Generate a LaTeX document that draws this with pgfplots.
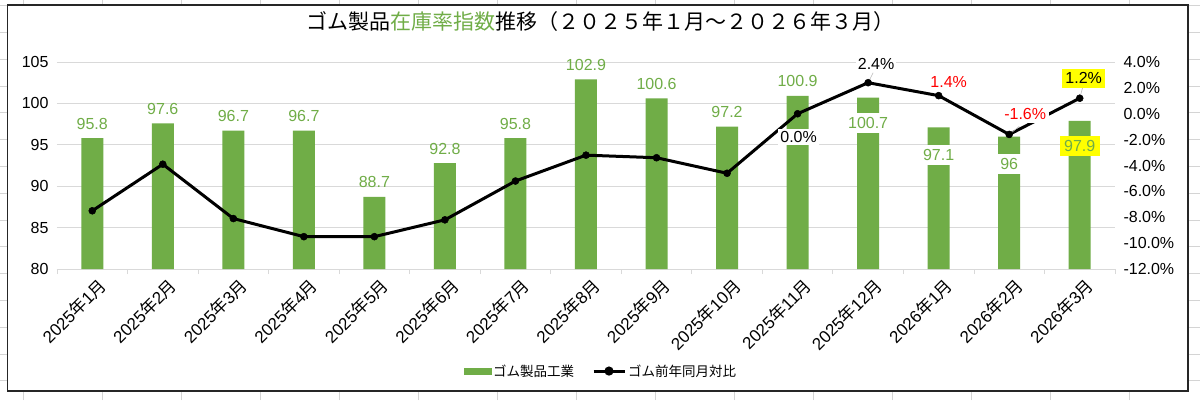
\documentclass[border=0pt]{standalone}
\usepackage{pgfplots}
\pgfplotsset{compat=1.18}
\usepackage{pgfplotstable}
\usepackage{fontspec}
\setmainfont{Liberation Sans}
\newfontfamily\jp{Noto Sans CJK JP}
\definecolor{barg}{HTML}{70AD47}
\definecolor{gridc}{HTML}{D9D9D9}
\definecolor{sheet}{HTML}{D4D4D4}
\definecolor{hl}{HTML}{FFFF00}
\newcommand\ym[2]{#1{\jp 年}#2{\jp 月}}

\pgfplotstableread{
x v
0 95.8
1 97.6
2 96.7
3 96.7
4 88.7
5 92.8
6 95.8
7 102.9
8 100.6
9 97.2
10 100.9
11 100.7
12 97.1
13 96
14 97.9
}\bars

\pgfplotstableread{
x p
0 -7.5
1 -3.9
2 -8.1
3 -9.5
4 -9.5
5 -8.2
6 -5.2
7 -3.2
8 -3.4
9 -4.6
10 0.0
11 2.4
12 1.4
13 -1.6
14 1.2
}\yoy

\tikzset{
  blab/.style={font=\fontsize{16}{19}\selectfont, text=barg},
  llab/.style={font=\fontsize{16}{19}\selectfont, text=black},
}

\begin{document}
\begin{tikzpicture}[x=1pt,y=1pt]
\useasboundingbox (0,0) rectangle (1200,400);
\fill[white] (0,0) rectangle (1200,400);
\foreach \i in {0,...,14} {\draw[sheet, line width=0.6pt] ({23+79*\i},0) -- ({23+79*\i},400);}
\foreach \j in {0,...,15} {\draw[sheet, line width=0.6pt] (0,{400-5.5-26.8*\j}) -- (1200,{400-5.5-26.8*\j});}
\draw[black!85, line width=1.3pt, fill=white] (7.6,9) rectangle (1188,395);
\node[font=\jp\fontsize{21}{24}\selectfont] at (600,378) {ゴム製品\textcolor{barg}{在庫率指数}推移（２０２５年１月～２０２６年３月）};

\begin{axis}[
  at={(57pt,131pt)}, anchor=south west, scale only axis,
  width=1058pt, height=207pt,
  xmin=-0.5, xmax=14.5, ymin=80, ymax=105,
  axis x line*=bottom, axis y line*=left,
  x axis line style={draw=gridc, line width=0.8pt, -},
  y axis line style={draw=none},
  ytick={80,85,...,105},
  ymajorgrids, grid style={gridc, line width=0.8pt},
  xtick={-0.5,0.5,...,14.5}, x tick label as interval,
  xticklabels={\ym{2025}{1},\ym{2025}{2},\ym{2025}{3},\ym{2025}{4},\ym{2025}{5},\ym{2025}{6},\ym{2025}{7},\ym{2025}{8},\ym{2025}{9},\ym{2025}{10},\ym{2025}{11},\ym{2025}{12},\ym{2026}{1},\ym{2026}{2},\ym{2026}{3}},
  tick align=outside, major tick length=5pt,
  xtick style={draw=gridc, line width=0.8pt},
  ytick style={draw=none},
  ticklabel style={font=\fontsize{16}{19}\selectfont},
  xticklabel style={font=\fontsize{17}{20}\selectfont, xshift=5pt, yshift=2pt, rotate=45, anchor=north east},
  /pgf/number format/assume math mode=true,
  clip mode=individual,
]
\addplot[ybar, bar width=22pt, fill=barg, draw=none] table[x=x,y=v]{\bars};
\node[blab, anchor=base, yshift=9pt] at (axis cs:0,95.8) {95.8};
\node[blab, anchor=base, yshift=9pt] at (axis cs:1,97.6) {97.6};
\node[blab, anchor=base, yshift=9pt] at (axis cs:2,96.7) {96.7};
\node[blab, anchor=base, yshift=9pt] at (axis cs:3,96.7) {96.7};
\node[blab, anchor=base, yshift=9pt] at (axis cs:4,88.7) {88.7};
\node[blab, anchor=base, yshift=9pt] at (axis cs:5,92.8) {92.8};
\node[blab, anchor=base, yshift=9pt] at (axis cs:6,95.8) {95.8};
\node[blab, anchor=base, yshift=9pt] at (axis cs:7,102.9) {102.9};
\node[blab, anchor=base, yshift=9pt] at (axis cs:8,100.6) {100.6};
\node[blab, anchor=base, yshift=9pt] at (axis cs:9,97.2) {97.2};
\node[blab, anchor=base, yshift=9pt] at (axis cs:10,100.9) {100.9};
\node[blab, fill=white, inner sep=4pt] at (axis cs:11,97.63) {100.7};
\node[blab, fill=white, inner sep=4pt] at (axis cs:12,93.77) {97.1};
\node[blab, fill=white, inner sep=4pt] at (axis cs:13,92.68) {96};
\node[blab, fill=hl, inner xsep=4.5pt, inner ysep=4pt] at (axis cs:14,94.86) {97.9};
\end{axis}

\begin{axis}[
  at={(57pt,131pt)}, anchor=south west, scale only axis,
  width=1058pt, height=207pt,
  xmin=-0.5, xmax=14.5, ymin=-12, ymax=4,
  axis x line=none, axis y line*=right,
  y axis line style={draw=none},
  ytick={-12,-10,...,4}, ytick style={draw=none},
  tick align=outside, major tick length=5pt,
  yticklabel={\pgfmathprintnumber[fixed,fixed zerofill,precision=1]{\tick}\%},
  ticklabel style={font=\fontsize{16}{19}\selectfont},
  /pgf/number format/assume math mode=true,
  clip=false,
  legend columns=2,
  legend style={at={(0.514,-0.493)}, anchor=center, draw=none, fill=none,
    font=\jp\fontsize{13.5}{16}\selectfont,
    /tikz/every even column/.append style={column sep=16pt}},
]
\addlegendimage{legend image code/.code={\fill[barg] (0pt,-3pt) rectangle (27pt,3pt);}}
\addlegendentry{ゴム製品工業}
\addplot[black, line width=3pt, mark=*, mark size=3.5pt, mark options={fill=black, line width=0.5pt, solid},
  legend image code/.code={\draw[black, line width=3pt] (0pt,0pt) -- (31pt,0pt); \fill[black] (15.5pt,0pt) circle (3pt);}]
  table[x=x,y=p]{\yoy};
\addlegendentry{ゴム前年同月対比}
\draw[gray!55, line width=0.6pt] (axis cs:11,2.4) -- ++(5pt,10pt);
\draw[gray!55, line width=0.6pt] (axis cs:14,1.2) -- ++(3pt,11pt);
\draw[gray!55, line width=0.6pt] (axis cs:13,-1.6) -- ++(10pt,8pt);
\node[llab, fill=white, inner sep=2.5pt, xshift=1pt, yshift=-23pt] at (axis cs:10,0) {0.0\%};
\node[llab, fill=white, inner sep=1.5pt, xshift=8pt, yshift=19pt] at (axis cs:11,2.4) {2.4\%};
\node[llab, text=red, inner sep=1.5pt, xshift=10pt, yshift=14pt] at (axis cs:12,1.4) {1.4\%};
\node[llab, text=red, fill=white, inner sep=2.5pt, xshift=16pt, yshift=20pt] at (axis cs:13,-1.6) {-1.6\%};
\node[llab, fill=hl, inner xsep=3.5pt, inner ysep=4pt, xshift=4pt, yshift=20pt] at (axis cs:14,1.2) {1.2\%};
\end{axis}
\end{tikzpicture}
\end{document}
